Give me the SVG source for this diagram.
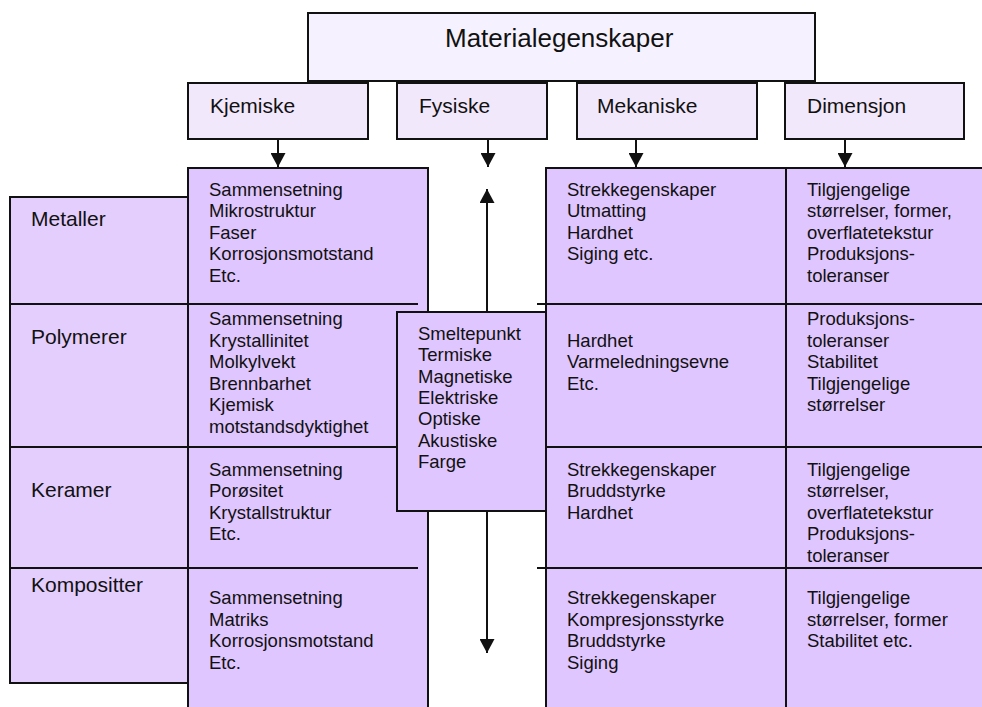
<svg xmlns="http://www.w3.org/2000/svg" width="982" height="707" viewBox="0 0 982 707">
  <defs>
    <style>
      .box { stroke: #111; stroke-width: 2; }
      .top { fill: #F6F1FE; }
      .head { fill: #F1E8FC; }
      .cell { fill: #E0C6FE; }
      .side { fill: #E4CEFE; }
      .rule { stroke: #111; stroke-width: 2; fill: none; }
      .link { stroke: #111; stroke-width: 2; fill: none; }
      text { font-family: "Liberation Sans", Arial, sans-serif; fill: #111; }
      .t1 { font-size: 26px; }
      .t2 { font-size: 21px; }
      .t3 { font-size: 18.5px; }
    </style>
    <marker id="arrow" viewBox="0 0 14 15" refX="14" refY="7.5" markerWidth="14" markerHeight="15" markerUnits="userSpaceOnUse" orient="auto">
      <path d="M0,0 L14,7.5 L0,15 Z" fill="#111"/>
    </marker>
  </defs>

  <!-- title and property headers -->
  <g id="materialegenskaper">
    <rect class="box top" x="308" y="13" width="507" height="68"/>
    <text class="t1" x="445" y="47">Materialegenskaper</text>
  </g>
  <g id="kjemiske">
    <rect class="box head" x="188" y="83" width="180" height="56"/>
    <text class="t2" x="210" y="113">Kjemiske</text>
  </g>
  <g id="fysiske">
    <rect class="box head" x="397" y="83" width="150" height="56"/>
    <text class="t2" x="419" y="113">Fysiske</text>
  </g>
  <g id="mekaniske">
    <rect class="box head" x="577" y="83" width="180" height="56"/>
    <text class="t2" x="597" y="113">Mekaniske</text>
  </g>
  <g id="dimensjon">
    <rect class="box head" x="785" y="83" width="179" height="56"/>
    <text class="t2" x="807" y="113">Dimensjon</text>
  </g>

  <!-- material classes column -->
  <g id="materialer">
    <rect class="box side" x="10" y="197" width="178" height="486"/>
    <text class="t2" x="31" y="226">Metaller</text>
    <text class="t2" x="31" y="344">Polymerer</text>
    <text class="t2" x="31" y="497">Keramer</text>
    <text class="t2" x="31" y="592">Kompositter</text>
  </g>

  <!-- chemical properties column -->
  <g id="kjemiske-egenskaper">
    <rect class="box cell" x="188" y="168" width="240" height="560"/>
    <text class="t3" x="209" y="195.5">
      <tspan x="209">Sammensetning</tspan>
      <tspan x="209" dy="21.5">Mikrostruktur</tspan>
      <tspan x="209" dy="21.5">Faser</tspan>
      <tspan x="209" dy="21.5">Korrosjonsmotstand</tspan>
      <tspan x="209" dy="21.5">Etc.</tspan>
    </text>
    <text class="t3" x="209" y="325">
      <tspan x="209">Sammensetning</tspan>
      <tspan x="209" dy="21.5">Krystallinitet</tspan>
      <tspan x="209" dy="21.5">Molkylvekt</tspan>
      <tspan x="209" dy="21.5">Brennbarhet</tspan>
      <tspan x="209" dy="21.5">Kjemisk</tspan>
      <tspan x="209" dy="21.5">motstandsdyktighet</tspan>
    </text>
    <text class="t3" x="209" y="475.5">
      <tspan x="209">Sammensetning</tspan>
      <tspan x="209" dy="21.5">Porøsitet</tspan>
      <tspan x="209" dy="21.5">Krystallstruktur</tspan>
      <tspan x="209" dy="21.5">Etc.</tspan>
    </text>
    <text class="t3" x="209" y="604">
      <tspan x="209">Sammensetning</tspan>
      <tspan x="209" dy="21.5">Matriks</tspan>
      <tspan x="209" dy="21.5">Korrosjonsmotstand</tspan>
      <tspan x="209" dy="21.5">Etc.</tspan>
    </text>
  </g>

  <!-- mechanical properties column -->
  <g id="mekaniske-egenskaper">
    <rect class="box cell" x="546" y="168" width="240" height="560"/>
    <text class="t3" x="567" y="195.5">
      <tspan x="567">Strekkegenskaper</tspan>
      <tspan x="567" dy="21.5">Utmatting</tspan>
      <tspan x="567" dy="21.5">Hardhet</tspan>
      <tspan x="567" dy="21.5">Siging etc.</tspan>
    </text>
    <text class="t3" x="567" y="346.5">
      <tspan x="567">Hardhet</tspan>
      <tspan x="567" dy="21.5">Varmeledningsevne</tspan>
      <tspan x="567" dy="21.5">Etc.</tspan>
    </text>
    <text class="t3" x="567" y="475.5">
      <tspan x="567">Strekkegenskaper</tspan>
      <tspan x="567" dy="21.5">Bruddstyrke</tspan>
      <tspan x="567" dy="21.5">Hardhet</tspan>
    </text>
    <text class="t3" x="567" y="604">
      <tspan x="567">Strekkegenskaper</tspan>
      <tspan x="567" dy="21.5">Kompresjonsstyrke</tspan>
      <tspan x="567" dy="21.5">Bruddstyrke</tspan>
      <tspan x="567" dy="21.5">Siging</tspan>
    </text>
  </g>

  <!-- dimensional properties column -->
  <g id="dimensjon-egenskaper">
    <rect class="box cell" x="786" y="168" width="210" height="560"/>
    <text class="t3" x="807" y="195.5">
      <tspan x="807">Tilgjengelige</tspan>
      <tspan x="807" dy="21.5">størrelser, former,</tspan>
      <tspan x="807" dy="21.5">overflatetekstur</tspan>
      <tspan x="807" dy="21.5">Produksjons-</tspan>
      <tspan x="807" dy="21.5">toleranser</tspan>
    </text>
    <text class="t3" x="807" y="325">
      <tspan x="807">Produksjons-</tspan>
      <tspan x="807" dy="21.5">toleranser</tspan>
      <tspan x="807" dy="21.5">Stabilitet</tspan>
      <tspan x="807" dy="21.5">Tilgjengelige</tspan>
      <tspan x="807" dy="21.5">størrelser</tspan>
    </text>
    <text class="t3" x="807" y="475.5">
      <tspan x="807">Tilgjengelige</tspan>
      <tspan x="807" dy="21.5">størrelser,</tspan>
      <tspan x="807" dy="21.5">overflatetekstur</tspan>
      <tspan x="807" dy="21.5">Produksjons-</tspan>
      <tspan x="807" dy="21.5">toleranser</tspan>
    </text>
    <text class="t3" x="807" y="604">
      <tspan x="807">Tilgjengelige</tspan>
      <tspan x="807" dy="21.5">størrelser, former</tspan>
      <tspan x="807" dy="21.5">Stabilitet etc.</tspan>
    </text>
  </g>

  <!-- row separators -->
  <g id="rader">
    <path class="rule" d="M10,304 H418 M10,447 H418 M10,568 H418"/>
    <path class="rule" d="M537,304 H990 M537,447 H990 M537,568 H990"/>
  </g>

  <!-- physical properties, shared by all rows -->
  <g id="fysiske-egenskaper">
    <rect class="box cell" x="397" y="312" width="149" height="199"/>
    <text class="t3" x="418" y="340">
      <tspan x="418">Smeltepunkt</tspan>
      <tspan x="418" dy="21.3">Termiske</tspan>
      <tspan x="418" dy="21.3">Magnetiske</tspan>
      <tspan x="418" dy="21.3">Elektriske</tspan>
      <tspan x="418" dy="21.3">Optiske</tspan>
      <tspan x="418" dy="21.3">Akustiske</tspan>
      <tspan x="418" dy="21.3">Farge</tspan>
    </text>
  </g>

  <!-- connectors -->
  <g id="connectors">
    <path class="link" d="M278,139 V167" marker-end="url(#arrow)"/>
    <path class="link" d="M488,139 V167" marker-end="url(#arrow)"/>
    <path class="link" d="M636,139 V167" marker-end="url(#arrow)"/>
    <path class="link" d="M845,139 V167" marker-end="url(#arrow)"/>
    <path class="link" d="M487,312 V189" marker-end="url(#arrow)"/>
    <path class="link" d="M487,511 V653" marker-end="url(#arrow)"/>
  </g>
</svg>
